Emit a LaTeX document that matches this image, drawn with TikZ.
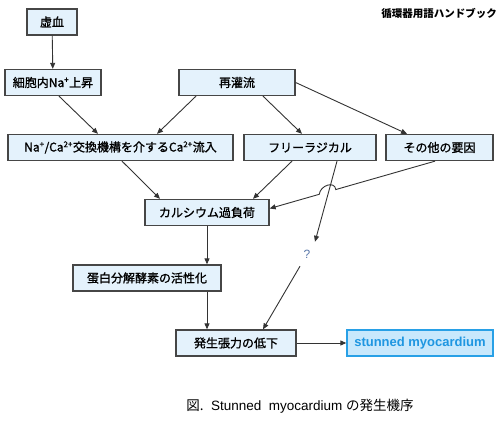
\documentclass[tikz,border=0pt]{standalone}
\usepackage{fontspec}
\setmainfont{Liberation Sans}
\newfontfamily\cjk{Noto Sans CJK JP}
\newfontfamily\cjkbox{Noto Sans CJK JP}[FakeBold=1.2]
\usetikzlibrary{arrows.meta}
\usetikzlibrary{positioning}
\usetikzlibrary{calc}

\definecolor{boxfill}{RGB}{228,242,252}
\definecolor{boxline}{RGB}{70,70,70}
\definecolor{stunfill}{RGB}{200,232,252}
\definecolor{stunline}{RGB}{40,160,230}
\definecolor{stuntext}{RGB}{30,150,225}
\definecolor{qmark}{RGB}{90,120,170}

\begin{document}
\begin{tikzpicture}[x=1pt, y=-1pt,
    box/.style={draw=boxline, fill=boxfill, line width=1.3pt, minimum height=26pt, inner sep=0pt, font=\cjkbox\fontsize{12}{14}\selectfont},
    link/.style={->, line width=0.9pt, draw=black!80},
    >={Triangle[length=6pt,width=5pt]}]
    \useasboundingbox (0,0) rectangle (500,420);

    \node[box, minimum width=50pt] (1) at (52,22) {虚血};
    \node[box, minimum width=96pt] (2) at (53,82.5) {細胞内Na\textsuperscript{+}上昇};
    \node[box, minimum width=116pt] (3) at (237,82.5) {再灌流};
    \node[box, minimum width=225pt] (4) at (120.5,147.5) {Na\textsuperscript{+}/Ca\textsuperscript{2+}交換機構を介するCa\textsuperscript{2+}流入};
    \node[box, minimum width=132pt] (5) at (310,147.5) {フリーラジカル};
    \node[box, minimum width=107pt] (6) at (439.5,147.5) {その他の要因};
    \node[box, minimum width=124pt] (7) at (207,212.5) {カルシウム過負荷};
    \node[box, minimum width=148pt] (8) at (147,278) {蛋白分解酵素の活性化};
    \node[text=qmark, font=\fontsize{12}{14}\selectfont, inner sep=0pt, minimum height=24pt] (9) at (307,254) {?};
    \node[box, minimum width=120pt] (10) at (236,343) {発生張力の低下};
    \node[box, minimum width=146pt, draw=stunline, fill=stunfill, text=stuntext, font=\bfseries\fontsize{13}{15}\selectfont] (11) at (420,343) {stunned myocardium};

    \node[font=\cjk\bfseries\fontsize{10.5}{12}\selectfont, anchor=east, inner sep=0pt] (hd) at (497,13) {循環器用語ハンドブック};
    \node[font=\fontsize{13.5}{15}\selectfont, inner sep=0pt] (cap) at (300,406) {{\cjk 図.}\ \ Stunned\ \ myocardium {\cjk の発生機序}};

    \draw[link] (1) -- (2);
    \draw[link] ([xshift=6pt]2.south) -- ([xshift=-22.5pt]4.north);
    \draw[link] ([xshift=-41pt]3.south) -- ([xshift=36.5pt]4.north);
    \draw[link] ([xshift=26pt]3.south) -- ([xshift=-8pt]5.north);
    \draw[link] (3.east) -- ([xshift=-32.5pt]6.north);
    \draw[link] ([xshift=1.5pt]4.south) -- ([xshift=-47pt]7.north);
    \draw[link] ([xshift=-18pt]5.south) -- ([xshift=46pt]7.north);
    \draw[link] ([xshift=27pt]5.south) -- ([xshift=8pt]9.north);
    \coordinate (c1) at ([xshift=-4.5pt]6.south);
    \coordinate (c2) at ([yshift=4pt]7.east);
    \draw[link] (c1) -- ($(c1)!0.6!(c2)$) .. controls +(-1,-9) and +(1,-9) .. ($(c1)!0.7!(c2)$) -- (c2);
    \draw[link] ([xshift=-7pt]9.south) -- ([xshift=27pt]10.north);
    \draw[link] (7) -- (7 |- 8.north);
    \draw[link] (8.south -| 7) -- (10.north -| 7);
    \draw[link] (10) -- (11);
\end{tikzpicture}
\end{document}
